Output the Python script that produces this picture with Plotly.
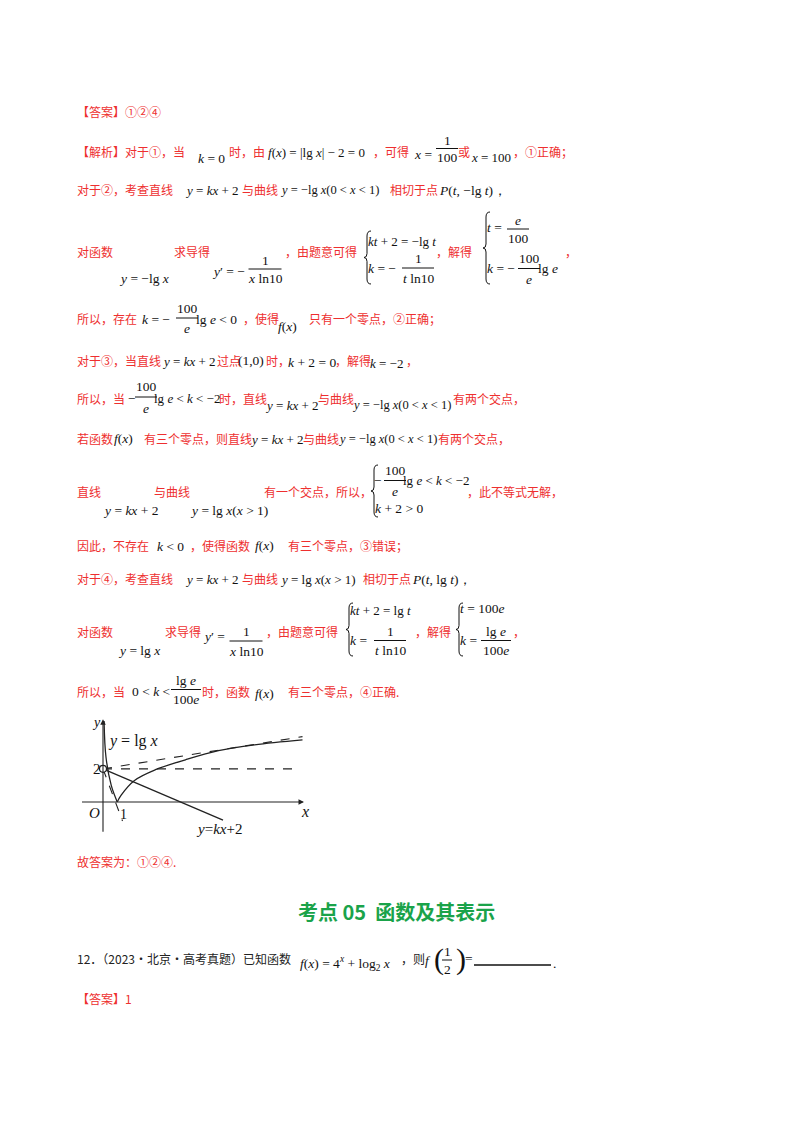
import plotly.graph_objects as go

# schematic graph data (graph units)
lg_left_x = [0.07, 0.2, 0.55, 0.95]
lg_left_y = [4.9, 2.7, 1.0, 0.0]
lg_right_x = [0.95, 1.2, 2.1, 3.5, 5.5, 7.7, 10.1, 13.3]
lg_right_y = [0.0, 0.4, 1.3, 1.95, 2.55, 3.1, 3.45, 3.75]
line_x = [0, 8.0]
line_y = [2, -1.1]
tangent_right_x = [0, 13.3]
tangent_right_y = [2, 3.95]
tangent_left_x = [0, 1.3]
tangent_left_y = [2, -1.15]
level_x = [0, 13.1]
level_y = [2, 2]

RED = "#ee2f2f"
CN = "Noto Sans CJK SC"
SERIF = "Liberation Serif"
MS = 13.5  # math font size

fig = go.Figure()

solid = dict(color="#222", width=1.3)
dash = dict(color="#222", width=1.1, dash="dash")
fig.add_trace(go.Scatter(x=lg_left_x, y=lg_left_y, mode="lines", line=dict(solid, shape="spline")))
fig.add_trace(go.Scatter(x=lg_right_x, y=lg_right_y, mode="lines", line=dict(solid, shape="spline")))
fig.add_trace(go.Scatter(x=line_x, y=line_y, mode="lines", line=solid))
fig.add_trace(go.Scatter(x=tangent_right_x, y=tangent_right_y, mode="lines", line=dash))
fig.add_trace(go.Scatter(x=tangent_left_x, y=tangent_left_y, mode="lines", line=dash))
fig.add_trace(go.Scatter(x=level_x, y=level_y, mode="lines", line=dash))
fig.add_trace(go.Scatter(x=[0], y=[2], mode="markers",
                         marker=dict(size=7, color="white", line=dict(color="#222", width=1.2))))
fig.add_trace(go.Scatter(x=[None], y=[None], xaxis="x2", yaxis="y2"))

ann = []
shapes = []


def t(x, y, text, kind="cn", size=None):
    if kind == "cn":
        font = dict(family=CN, size=size or 12, color=RED)
        x -= 2
    elif kind == "k":
        font = dict(family=CN, size=size or 12, color="#222")
        x -= 2
    else:
        font = dict(family=SERIF, size=size or MS, color="#111")
        x -= 5
    ann.append(dict(x=x, y=y, text=text, xref="x2", yref="y2", showarrow=False,
                    xanchor="left", yanchor="middle", align="left", font=font, borderpad=0))


def frac(cx, yn, yd, num, den, w=None):
    for yy, s in ((yn, num), (yd, den)):
        ann.append(dict(x=cx, y=yy, text=s, xref="x2", yref="y2", showarrow=False,
                        xanchor="center", yanchor="middle", borderpad=0,
                        font=dict(family=SERIF, size=MS, color="#111")))
    half = (w or 30) / 2
    ym = (yn + yd) / 2
    shapes.append(dict(type="line", xref="x2", yref="y2", x0=cx - half, x1=cx + half,
                       y0=ym, y1=ym, line=dict(color="#111", width=1)))


def brace(x, y0, y1):
    ym = (y0 + y1) / 2
    p = (f"M {x+4},{y0} Q {x},{y0} {x},{y0+5} L {x},{ym-4} Q {x},{ym} {x-3},{ym} "
         f"Q {x},{ym} {x},{ym+4} L {x},{y1-5} Q {x},{y1} {x+4},{y1}")
    shapes.append(dict(type="path", xref="x2", yref="y2", path=p,
                       line=dict(color="#111", width=1)))


I = lambda s: "<i>" + s + "</i>"
NEG_LG = I("y") + " = −lg " + I("x") + "(0 < " + I("x") + " < 1)"

t(70, 103, "【答案】①②④")

# line 2
t(70, 143, "【解析】对于①，当")
t(194, 150, I("k") + " = 0", "m")
t(222, 143, "时，由")
t(264, 144, I("f") + "(" + I("x") + ") = |lg " + I("x") + "| − 2 = 0", "m", 13)
t(366, 143, "，可得")
t(410, 146, I("x") + " =", "m")
frac(439, 132, 149, "1", "100", 22)
t(451, 143, "或")
t(467, 149, I("x") + " = 100", "m", 13)
t(506, 143, "，①正确；")

# line 3
t(70, 181, "对于②，考查直线")
t(181, 182, I("y") + " = " + I("kx") + " + 2", "m", 13)
t(235, 181, "与曲线")
t(276, 182, NEG_LG, "m", 12.5)
t(383, 181, "相切于点")
t(435, 182, I("P") + "(" + I("t") + ", −lg " + I("t") + ")，", "m")

# line 4
t(70, 243, "对函数")
t(115, 270, I("y") + " = −lg " + I("x"), "m")
t(167, 243, "求导得")
t(208, 263, I("y") + "′ = −", "m")
frac(257, 252, 270, "1", I("x") + " ln10", 33)
t(278, 243, "，由题意可得")
brace(359, 223, 276)
t(364, 233, I("kt") + " + 2 = −lg " + I("t"), "m", 13)
t(364, 260, I("k") + " = −", "m")
frac(410, 250, 270, "1", I("t") + " ln10", 32)
t(429, 243, "，解得")
brace(478, 204, 276)
t(483, 219, I("t") + " =", "m")
frac(510, 212, 230, I("e"), "100", 22)
t(483, 260, I("k") + " = −", "m")
frac(521, 250, 271, "100", I("e"), 22)
t(534, 260, "lg " + I("e"), "m")
t(558, 243, "，")

# line 5
t(70, 310, "所以，存在")
t(138, 311, I("k") + " = −", "m")
frac(179, 300, 320, "100", I("e"), 22)
t(192, 311, "lg " + I("e") + " < 0", "m")
t(236, 310, "，使得")
t(274, 318, I("f") + "(" + I("x") + ")", "m")
t(302, 310, "只有一个零点，②正确；")

# line 6
t(70, 352, "对于③，当直线")
t(158, 353, I("y") + " = " + I("kx") + " + 2", "m", 13)
t(210, 352, "过点")
t(234, 352, "(1,0)", "m")
t(259, 352, "时，")
t(284, 354, I("k") + " + 2 = 0", "m")
t(328, 352, "，解得")
t(366, 355, I("k") + " = −2", "m", 13)
t(399, 352, "，")

# line 7
t(70, 390, "所以，当")
t(124, 390, "−", "m")
frac(138, 378, 400, "100", I("e"), 22)
t(150, 390, "lg " + I("e") + " < " + I("k") + " < −2", "m", 13)
t(212, 390, "时，直线")
t(261, 397, I("y") + " = " + I("kx") + " + 2", "m", 13)
t(311, 390, "与曲线")
t(348, 397, NEG_LG, "m", 12.5)
t(446, 390, "有两个交点，")

# line 8
t(70, 430, "若函数")
t(110, 430, I("f") + "(" + I("x") + ")", "m")
t(137, 430, "有三个零点，则直线")
t(246, 431, I("y") + " = " + I("kx") + " + 2", "m", 13)
t(296, 430, "与曲线")
t(334, 431, NEG_LG, "m", 12.5)
t(431, 430, "有两个交点，")

# line 9
t(70, 483, "直线")
t(99, 502, I("y") + " = " + I("kx") + " + 2", "m")
t(147, 483, "与曲线")
t(186, 502, I("y") + " = lg " + I("x") + "(" + I("x") + " > 1)", "m")
t(257, 483, "有一个交点，所以，")
brace(366, 457, 509)
t(370, 472, "−", "m")
frac(387, 462, 483, "100", I("e"), 22)
t(399, 472, "lg " + I("e") + " < " + I("k") + " < −2", "m", 13)
t(371, 500, I("k") + " + 2 > 0", "m")
t(460, 483, "，此不等式无解，")

# line 10
t(70, 537, "因此，不存在")
t(153, 538, I("k") + " < 0", "m")
t(183, 537, "，使得函数")
t(251, 537, I("f") + "(" + I("x") + ")", "m")
t(281, 537, "有三个零点，③错误；")

# line 11
t(70, 570, "对于④，考查直线")
t(181, 571, I("y") + " = " + I("kx") + " + 2", "m", 13)
t(235, 570, "与曲线")
t(276, 571, I("y") + " = lg " + I("x") + "(" + I("x") + " > 1)", "m", 13)
t(356, 570, "相切于点")
t(408, 571, I("P") + "(" + I("t") + ", lg " + I("t") + ")，", "m")

# line 12
t(70, 623, "对函数")
t(114, 642, I("y") + " = lg " + I("x"), "m")
t(158, 623, "求导得")
t(199, 628, I("y") + "′ =", "m")
frac(238, 623, 643, "1", I("x") + " ln10", 33)
t(259, 623, "，由题意可得")
brace(341, 595, 648)
t(346, 602, I("kt") + " + 2 = lg " + I("t"), "m", 13)
t(346, 632, I("k") + " =", "m")
frac(382, 623, 642, "1", I("t") + " ln10", 32)
t(408, 623, "，解得")
brace(451, 595, 648)
t(456, 600, I("t") + " = 100" + I("e"), "m")
t(456, 632, I("k") + " =", "m")
frac(488, 623, 642, "lg " + I("e"), "100" + I("e"), 30)
t(506, 623, "，")

# line 13
t(70, 683, "所以，当")
t(128, 683, "0 < " + I("k") + " <", "m")
frac(178, 672, 691, "lg " + I("e"), "100" + I("e"), 30)
t(195, 683, "时，函数")
t(251, 685, I("f") + "(" + I("x") + ")", "m")
t(281, 683, "有三个零点，④正确.")

# graph labels
t(88, 714, I("y"), "m", 14)
t(104, 733, I("y") + " = lg " + I("x"), "m", 16)
t(89, 761, "2", "m", 15)
t(85, 805, I("O"), "m", 15)
t(116, 806, "1", "m", 14)
t(297, 803, I("x"), "m", 16)
t(192, 821, I("y") + "=" + I("kx") + "+2", "m", 15)

t(70, 853, "故答案为：①②④.")

ann.append(dict(x=388, y=903, text="<b>考点 05  函数及其表示</b>", xref="x2", yref="y2",
                showarrow=False, xanchor="center", yanchor="middle",
                font=dict(family=CN, size=20, color="#1aa34a")))

t(70, 950, "12．（2023·北京·高考真题）已知函数", "k")
t(296, 955, I("f") + "(" + I("x") + ") = 4<sup>" + I("x") + "</sup> + log<sub>2</sub> " + I("x"), "m")
t(394, 950, "，则", "k")
t(421, 952, I("f"), "m")
ann.append(dict(x=424, y=951, text="(", xref="x2", yref="y2", showarrow=False, xanchor="left",
                align="left", yanchor="middle", font=dict(family=SERIF, size=30, color="#111")))
frac(439, 943, 961, "1", "2", 10)
ann.append(dict(x=446, y=951, text=")", xref="x2", yref="y2", showarrow=False, xanchor="left",
                align="left", yanchor="middle", font=dict(family=SERIF, size=30, color="#111")))
t(461, 950, "=", "m")
shapes.append(dict(type="line", xref="x2", yref="y2", x0=466, x1=543, y0=957, y1=957,
                   line=dict(color="#111", width=1.3)))
t(549, 955, ".", "m")
t(70, 990, "【答案】1")

# graph axes with arrows
for (x0, y0, x1, y1) in ((-1.5, 0, 13.4, 0), (0, -1.9, 0, 5.0)):
    ann.append(dict(x=x1, y=y1, ax=x0, ay=y0, xref="x", yref="y", axref="x", ayref="y",
                    showarrow=True, arrowhead=2, arrowsize=1, arrowwidth=1.1,
                    arrowcolor="#222", text=""))

fig.update_layout(
    width=800, height=1132, margin=dict(l=0, r=0, t=0, b=0),
    paper_bgcolor="white", plot_bgcolor="rgba(0,0,0,0)", showlegend=False,
    xaxis=dict(range=[-1.5, 14.5], domain=[72.5 / 800, 312.5 / 800], visible=False),
    yaxis=dict(range=[-2, 5.5], domain=[1 - 827 / 1132, 1 - 703 / 1132], visible=False),
    xaxis2=dict(range=[0, 800], domain=[0, 1], anchor="y2", visible=False),
    yaxis2=dict(range=[1132, 0], domain=[0, 1], anchor="x2", visible=False),
    annotations=ann, shapes=shapes,
)

fig.write_html("out.html")
